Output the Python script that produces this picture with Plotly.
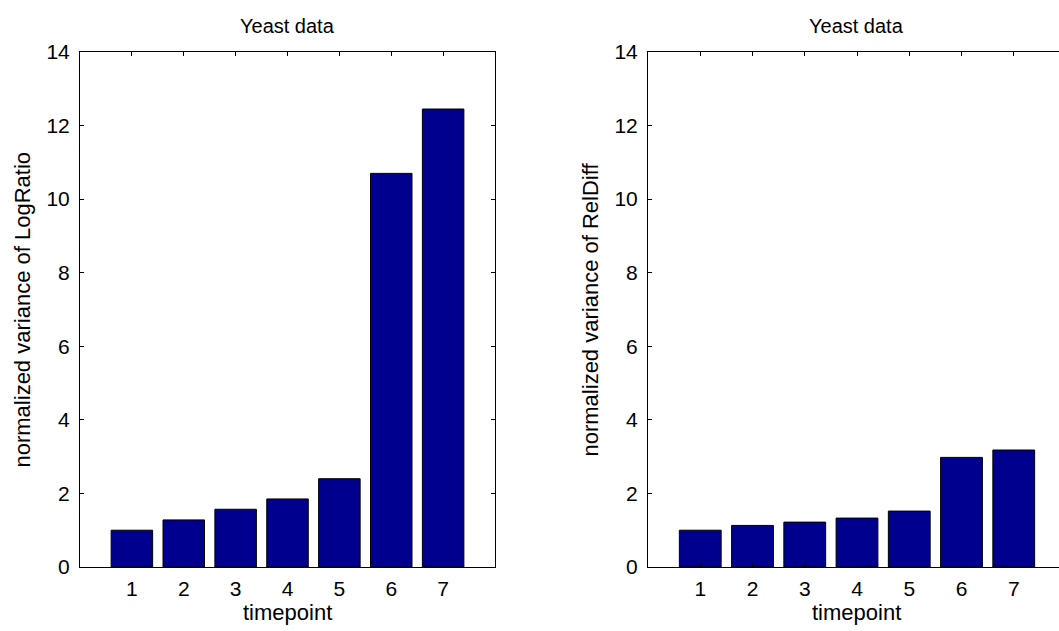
import plotly.graph_objects as go

timepoints = [1, 2, 3, 4, 5, 6, 7]
logratio_var = [1.0, 1.28, 1.57, 1.85, 2.40, 10.70, 12.45]
reldiff_var = [1.0, 1.13, 1.22, 1.33, 1.52, 2.98, 3.18]
y_ticks = [0, 2, 4, 6, 8, 10, 12, 14]
titles = ["Yeast data", "Yeast data"]
ylabels = ["normalized variance of LogRatio", "normalized variance of RelDiff"]
xlabel = "timepoint"

W, H = 1070, 631
bar_color = "#00008F"
FAM = "Liberation Sans, Arial, sans-serif"
tick_font = dict(family=FAM, size=21, color="black")
label_font = dict(family=FAM, size=22, color="black")
title_font = dict(family=FAM, size=20, color="black")

fig = go.Figure()
fig.add_trace(go.Bar(x=timepoints, y=logratio_var, width=0.8,
                     marker=dict(color=bar_color, line=dict(color="black", width=1)),
                     xaxis="x", yaxis="y", showlegend=False, hoverinfo="skip"))
fig.add_trace(go.Bar(x=timepoints, y=reldiff_var, width=0.8,
                     marker=dict(color=bar_color, line=dict(color="black", width=1)),
                     xaxis="x2", yaxis="y2", showlegend=False, hoverinfo="skip"))

top = (H - 52) / H
bot = (H - 567) / H
L1, R1 = 80, 495
L2, R2 = 648, 1066

common_x = dict(tickvals=timepoints, range=[0, 8], ticks="inside", ticklen=4, tickcolor="black",
                showline=True, linecolor="black", linewidth=1, mirror="ticks",
                showgrid=False, zeroline=False, tickfont=tick_font, ticklabelstandoff=3)
common_y = dict(tickvals=y_ticks, range=[0, 14], ticks="inside", ticklen=4, tickcolor="black",
                showline=True, linecolor="black", linewidth=1, mirror="ticks",
                showgrid=False, zeroline=False, tickfont=tick_font, ticklabelstandoff=5)

ymid = 1 - (52 + 567) / 2 / H
annotations = []
for i, (L, R) in enumerate([(L1, R1), (L2, R2)]):
    annotations.append(dict(text=titles[i], x=(L + R) / 2 / W, y=(H - 26) / H, xref="paper", yref="paper",
                            showarrow=False, font=title_font, xanchor="center", yanchor="middle"))
    annotations.append(dict(text=xlabel, x=(L + R) / 2 / W, y=(H - 612) / H, xref="paper", yref="paper",
                            showarrow=False, font=label_font, xanchor="center", yanchor="middle"))
    annotations.append(dict(text=ylabels[i], x=(L - 58) / W, y=ymid, xref="paper", yref="paper",
                            showarrow=False, font=label_font, textangle=-90,
                            xanchor="center", yanchor="middle"))

fig.update_layout(
    width=W, height=H, margin=dict(l=0, r=0, t=0, b=0, autoexpand=False),
    paper_bgcolor="white", plot_bgcolor="white", font=tick_font,
    xaxis=dict(common_x, domain=[L1 / W, R1 / W], anchor="y"),
    yaxis=dict(common_y, domain=[bot, top], anchor="x"),
    xaxis2=dict(common_x, domain=[L2 / W, R2 / W], anchor="y2"),
    yaxis2=dict(common_y, domain=[bot, top], anchor="x2"),
    annotations=annotations,
)

fig.write_html("out.html", config={"displayModeBar": False, "staticPlot": True},
               post_script="document.body.style.margin='0';document.body.style.overflow='hidden';"
                           "document.documentElement.style.overflow='hidden';")
